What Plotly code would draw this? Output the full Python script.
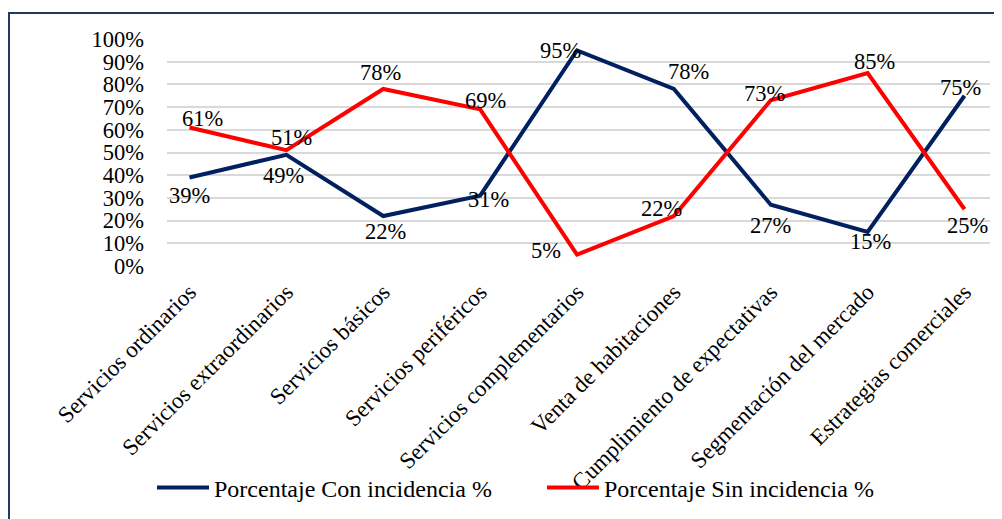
import plotly.graph_objects as go

categories = [
    "Servicios ordinarios",
    "Servicios extraordinarios",
    "Servicios básicos",
    "Servicios periféricos",
    "Servicios complementarios",
    "Venta de habitaciones",
    "Cumplimiento de expectativas",
    "Segmentación del mercado",
    "Estrategias comerciales",
]
con_incidencia = [0.39, 0.49, 0.22, 0.31, 0.95, 0.78, 0.27, 0.15, 0.75]
sin_incidencia = [0.61, 0.51, 0.78, 0.69, 0.05, 0.22, 0.73, 0.85, 0.25]
y_ticks = [i / 10 for i in range(11)]
y_tick_labels = [f"{i * 10}%" for i in range(11)]

# label offsets in pixels (dx right, dy up) — styling only
con_offsets = [(0, -18.5), (-3, -21), (2, -15.5), (8.5, -3.5), (-17, 0),
               (14.5, 17.5), (0, -21), (3, -9.5), (-4, 8)]
sin_offsets = [(13, 9), (5, 12.5), (-3, 16.5), (5, 9), (-31, 4.5),
               (-12.5, 7.5), (-6, 7), (7, 12), (3, -16)]

FONT = "Liberation Serif"
OFF = 8  # page body margin
W, H = 1002 - OFF, 519 - OFF
# plot area in reference pixel coordinates
PX0, PX1, PY0, PY1 = 167, 990, 39, 266
L, R, T = PX0 - OFF, W - (PX1 - OFF), PY0 - OFF
B = H - (PY1 - OFF)
pw, ph = W - L - R, H - T - B

def px_x(x):
    return (x - OFF - L) / pw

def px_y(y):
    return (H - B - (y - OFF)) / ph

fig = go.Figure()
fig.add_trace(go.Scatter(
    x=categories, y=con_incidencia, mode="lines",
    name="Porcentaje Con incidencia %",
    line=dict(color="#002060", width=4),
    cliponaxis=False,
))
fig.add_trace(go.Scatter(
    x=categories, y=sin_incidencia, mode="lines",
    name="Porcentaje Sin incidencia %",
    line=dict(color="#FF0000", width=4),
    cliponaxis=False,
))

annotations = []
for vals, offs in ((con_incidencia, con_offsets), (sin_incidencia, sin_offsets)):
    for cat, v, (dx, dy) in zip(categories, vals, offs):
        annotations.append(dict(
            x=cat, y=v, xref="x", yref="y", text=f"{round(v * 100)}%",
            showarrow=False, xshift=dx, yshift=dy,
            xanchor="center", yanchor="middle",
            font=dict(family=FONT, size=22.5, color="black"),
        ))

fig.add_shape(type="rect", xref="paper", yref="paper",
              x0=px_x(9), x1=px_x(1040), y0=px_y(560), y1=px_y(13),
              line=dict(color="#1F3864", width=2), fillcolor="rgba(0,0,0,0)",
              layer="below")

fig.update_layout(
    width=W, height=H,
    margin=dict(l=L, r=R, t=T, b=B, autoexpand=False),
    paper_bgcolor="white", plot_bgcolor="white",
    font=dict(family=FONT, size=22, color="black"),
    annotations=annotations,
    showlegend=True,
    legend=dict(orientation="h", x=px_x(152), xanchor="left",
                y=px_y(488), yanchor="middle",
                font=dict(family=FONT, size=24, color="black"),
                bgcolor="rgba(0,0,0,0)", itemwidth=52,
                entrywidth=323, entrywidthmode="pixels",
                tracegroupgap=0),
    xaxis=dict(type="category", tickangle=-45, showgrid=False, showline=False,
               ticks="", tickfont=dict(family=FONT, size=23, color="black"),
               zeroline=False, automargin=False, ticklabelstandoff=7),
    yaxis=dict(range=[0, 1.0], tickvals=y_ticks, ticktext=y_tick_labels,
               showgrid=True, gridcolor="#D9D9D9", gridwidth=1.5,
               showline=False, zeroline=False, ticks="", automargin=False,
               tickfont=dict(family=FONT, size=22.5, color="black"),
               ticklabelstandoff=22),
)

fig.write_html("out.html")
